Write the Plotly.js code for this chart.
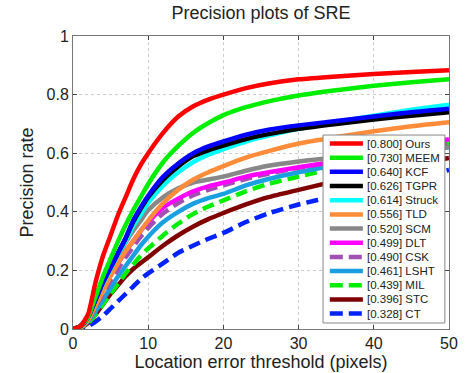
<!DOCTYPE html>
<html><head><meta charset="utf-8">
<script src="https://cdn.plot.ly/plotly-3.0.1.min.js"></script>
<style>html,body{margin:0;padding:0;background:#fff}#chart{width:467px;height:373px}</style>
</head><body><div id="chart"></div>
<script>
const thresholds = [0,1,2,3,4,5,6,7,8,9,10,12,14,16,18,20,23,26,30,35,40,45,50];
const trackerNames = ["[0.800] Ours","[0.730] MEEM","[0.640] KCF","[0.626] TGPR","[0.614] Struck","[0.556] TLD","[0.520] SCM","[0.499] DLT","[0.490] CSK","[0.461] LSHT","[0.439] MIL","[0.396] STC","[0.328] CT"];
const ours   = [0,0.01,0.05,0.16,0.25,0.32,0.39,0.45,0.51,0.56,0.60,0.67,0.725,0.76,0.783,0.80,0.822,0.838,0.852,0.862,0.870,0.877,0.883];
const meem   = [0,0.01,0.04,0.11,0.18,0.24,0.30,0.355,0.405,0.45,0.495,0.57,0.625,0.67,0.703,0.73,0.757,0.777,0.797,0.815,0.83,0.842,0.852];
const kcf    = [0,0.01,0.04,0.10,0.16,0.21,0.26,0.31,0.37,0.415,0.455,0.52,0.565,0.60,0.623,0.64,0.663,0.68,0.695,0.71,0.725,0.74,0.752];
const tgpr   = [0,0.01,0.04,0.10,0.16,0.21,0.26,0.31,0.365,0.41,0.45,0.51,0.555,0.59,0.61,0.626,0.648,0.665,0.683,0.70,0.715,0.728,0.74];
const struck = [0,0.01,0.04,0.10,0.155,0.205,0.255,0.30,0.35,0.39,0.43,0.49,0.535,0.57,0.595,0.614,0.64,0.66,0.683,0.705,0.728,0.748,0.765];
const tld    = [0,0.005,0.03,0.08,0.13,0.18,0.225,0.265,0.30,0.335,0.37,0.43,0.475,0.51,0.535,0.556,0.585,0.607,0.633,0.655,0.675,0.692,0.706];
const scm    = [0,0.01,0.04,0.09,0.15,0.20,0.25,0.295,0.335,0.37,0.405,0.45,0.48,0.50,0.51,0.52,0.54,0.557,0.572,0.585,0.598,0.61,0.62];
const dlt    = [0,0.01,0.04,0.09,0.14,0.185,0.225,0.265,0.30,0.335,0.365,0.415,0.445,0.47,0.487,0.499,0.52,0.535,0.552,0.572,0.597,0.623,0.648];
const csk    = [0,0.005,0.03,0.075,0.12,0.165,0.205,0.245,0.28,0.315,0.345,0.395,0.43,0.457,0.475,0.49,0.512,0.53,0.55,0.572,0.593,0.612,0.63];
const lsht   = [0,0.005,0.025,0.06,0.10,0.14,0.18,0.215,0.25,0.285,0.315,0.365,0.40,0.428,0.447,0.461,0.49,0.512,0.535,0.56,0.583,0.603,0.62];
const mil    = [0,0.005,0.02,0.05,0.085,0.12,0.155,0.19,0.22,0.25,0.275,0.32,0.36,0.393,0.418,0.439,0.47,0.495,0.52,0.55,0.578,0.607,0.635];
const stc    = [0,0.005,0.02,0.05,0.085,0.12,0.15,0.18,0.205,0.225,0.245,0.285,0.32,0.35,0.375,0.396,0.425,0.45,0.475,0.505,0.535,0.56,0.584];
const ct     = [0,0.003,0.01,0.025,0.045,0.07,0.095,0.12,0.145,0.17,0.19,0.225,0.26,0.285,0.308,0.328,0.365,0.395,0.425,0.455,0.485,0.515,0.543];
const xTicks = [0,10,20,30,40,50];
const yTicks = [0,0.2,0.4,0.6,0.8,1];
const yTickText = ["0","0.2","0.4","0.6","0.8","1"];

const series = [ours,meem,kcf,tgpr,struck,tld,scm,dlt,csk,lsht,mil,stc,ct];
const colors = ["#ff0000","#00ee00","#0000ff","#000000","#00ffff","#ff8c3a","#888888","#ff00ff","#a050b0","#1aa0e0","#00ee00","#800000","#0022ff"];
const dashed = [false,false,false,false,false,false,false,false,true,false,true,false,true];

const traces = [];
for (let i = series.length - 1; i >= 0; i--) {
  traces.push({x: thresholds, y: series[i], name: trackerNames[i], type: "scatter", mode: "lines", showlegend: false,
    line: {color: colors[i], width: 4.5, dash: dashed[i] ? "12px,6px" : "solid", shape: "spline", smoothing: 0.6}});
}

// custom legend (MATLAB-style compact rows), positions in paper fractions
const shapes = [{type: "rect", xref: "paper", yref: "paper", x0: 0.665, x1: 0.989, y0: 0.0205, y1: 0.662,
  fillcolor: "#fff", line: {color: "#888", width: 1}, layer: "above"}];
const annotations = [];
const rowTop = 0.633, rowStep = 0.04836;
for (let i = 0; i < trackerNames.length; i++) {
  const yy = rowTop - i * rowStep;
  shapes.push({type: "line", xref: "paper", yref: "paper", x0: 0.683, x1: 0.771, y0: yy, y1: yy, layer: "above",
    line: {color: colors[i], width: 4.5, dash: dashed[i] ? "13px,6px" : "solid"}});
  annotations.push({xref: "paper", yref: "paper", x: 0.776, y: yy, xanchor: "left", yanchor: "middle", showarrow: false,
    text: trackerNames[i], font: {size: 11.5, color: "#222"}});
}

const layout = {
  width: 467, height: 373,
  margin: {l: 73, r: 18, t: 36, b: 44},
  paper_bgcolor: "#fff", plot_bgcolor: "#fff",
  font: {family: "Liberation Sans, Arial, sans-serif", size: 16, color: "#222"},
  title: {text: "Precision plots of SRE", x: 0.559, xanchor: "center", y: 0.984, yanchor: "top", font: {size: 18, color: "#222"}},
  xaxis: {range: [0,50], tickvals: xTicks, ticks: "inside", ticklen: 4, tickcolor: "#444", showline: true, mirror: "ticks", linecolor: "#777", linewidth: 1,
    showgrid: true, gridcolor: "#ccc", griddash: "dot", zeroline: false, tickfont: {size: 16},
    title: {text: "Location error threshold (pixels)", font: {size: 18}, standoff: 1}},
  yaxis: {range: [0,1], tickvals: yTicks, ticktext: yTickText, ticks: "inside", ticklen: 4, tickcolor: "#444", showline: true, mirror: "ticks", linecolor: "#777", linewidth: 1,
    showgrid: true, gridcolor: "#ccc", griddash: "dot", zeroline: false, tickfont: {size: 16},
    title: {text: "Precision rate", font: {size: 18}, standoff: 8}},
  shapes: shapes, annotations: annotations,
  showlegend: false
};
Plotly.newPlot("chart", traces, layout, {staticPlot: true, displayModeBar: false});
</script></body></html>
